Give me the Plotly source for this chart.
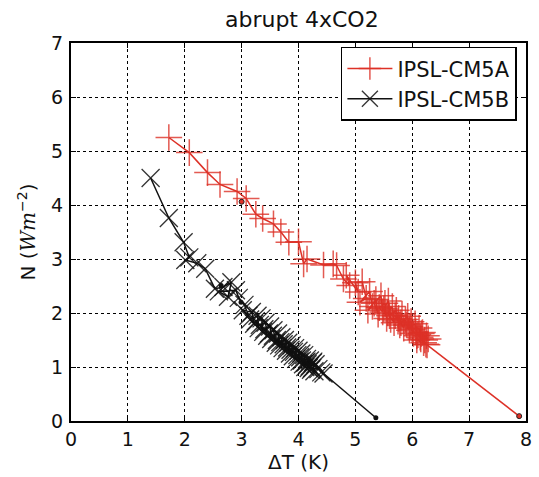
import plotly.graph_objects as go

# IPSL-CM5A annual means (dT, N)
cm5a_dt = [1.72, 2.08, 2.40, 2.62, 2.92, 3.08, 3.25, 3.37, 3.56, 3.69, 3.83, 4.00, 4.09, 4.15,
           4.44, 4.61, 4.67, 4.79, 4.90, 4.84, 5.05, 5.00, 5.12, 5.19, 5.08,
           5.25, 5.30, 5.22, 5.36, 5.40, 5.33, 5.45, 5.48, 5.42, 5.52, 5.55, 5.50, 5.58, 5.62,
           5.57, 5.65, 5.68, 5.60, 5.72, 5.75, 5.70, 5.78, 5.82, 5.76, 5.85, 5.88, 5.80, 5.92,
           5.95, 5.90, 5.98, 6.02, 5.96, 6.05, 6.08, 6.00, 6.12, 6.15, 6.06, 6.18, 6.22, 6.10,
           6.25, 6.20, 6.14, 6.28, 6.16, 6.24, 6.08, 6.26]
cm5a_n = [5.25, 4.97, 4.60, 4.38, 4.25, 4.12, 3.83, 3.75, 3.65, 3.50, 3.31, 3.32, 2.91, 3.00,
          2.89, 2.91, 2.88, 2.63, 2.51, 2.70, 2.39, 2.56, 2.58, 2.27, 2.20,
          2.40, 2.12, 2.05, 2.25, 1.98, 2.18, 2.32, 2.02, 2.10, 2.18, 1.90, 2.08, 2.22, 1.88,
          2.00, 2.12, 1.82, 1.95, 2.05, 1.85, 1.95, 1.78, 1.98, 1.90, 1.72, 1.88, 1.82, 1.94,
          1.68, 1.78, 1.84, 1.62, 1.75, 1.80, 1.58, 1.70, 1.72, 1.52, 1.65, 1.64, 1.50, 1.60,
          1.58, 1.45, 1.55, 1.52, 1.62, 1.42, 1.50, 1.41]

# IPSL-CM5B annual means (dT, N)
cm5b_dt = [1.40, 1.72, 1.98, 2.08, 2.01, 2.22, 2.36, 2.53, 2.68, 2.82, 2.76, 2.60, 2.90, 2.95,
           3.05, 3.12, 3.02,
           3.18, 3.22, 3.15, 3.28, 3.30, 3.25, 3.35, 3.38, 3.32, 3.42, 3.45, 3.40, 3.50, 3.52,
           3.48, 3.56, 3.60, 3.55, 3.64, 3.66, 3.62, 3.70, 3.72, 3.68, 3.76, 3.78, 3.74, 3.82,
           3.85, 3.80, 3.88, 3.90, 3.86, 3.94, 3.96, 3.92, 4.00, 4.02, 3.98, 4.05, 4.08, 4.03,
           4.10, 4.12, 4.06, 4.15, 4.18, 4.12, 4.20, 4.22, 4.16, 4.25, 4.28, 4.20, 4.30, 4.14,
           4.24, 4.35, 4.26, 4.40, 4.44]
cm5b_n = [4.50, 3.76, 3.31, 3.03, 2.98, 2.92, 2.82, 2.45, 2.48, 2.57, 2.30, 2.40, 2.42, 2.28,
          2.15, 1.95, 2.05,
          2.02, 1.80, 1.88, 1.95, 1.72, 1.85, 1.90, 1.65, 1.78, 1.82, 1.58, 1.70, 1.75, 1.52,
          1.62, 1.68, 1.45, 1.58, 1.62, 1.40, 1.50, 1.55, 1.35, 1.46, 1.50, 1.30, 1.42, 1.45,
          1.25, 1.36, 1.40, 1.20, 1.32, 1.35, 1.15, 1.28, 1.30, 1.10, 1.22, 1.25, 1.05, 1.18,
          1.22, 1.00, 1.12, 1.15, 0.98, 1.08, 1.12, 0.95, 1.05, 1.08, 0.92, 1.02, 1.05, 1.10,
          0.98, 0.96, 1.10, 0.90, 0.88]

# extrapolation to equilibrium (N = 0)
cm5a_eq_dt = [6.26, 7.88]
cm5a_eq_n = [1.41, 0.09]
cm5b_eq_dt = [4.44, 5.36]
cm5b_eq_n = [0.88, 0.06]

# marked points on the fits
cm5a_dot_dt = [3.00]
cm5a_dot_n = [4.06]
cm5b_dot_dt = [2.64, 2.99]
cm5b_dot_n = [2.51, 2.20]

red = '#dd3127'
black = '#111111'

fig = go.Figure()

fig.add_trace(go.Scatter(x=cm5a_eq_dt, y=cm5a_eq_n, mode='lines', showlegend=False,
                         line=dict(color=red, width=1.5)))
fig.add_trace(go.Scatter(x=cm5b_eq_dt, y=cm5b_eq_n, mode='lines', showlegend=False,
                         line=dict(color=black, width=1.5)))

fig.add_trace(go.Scatter(x=cm5a_dt, y=cm5a_n, mode='lines+markers', name='IPSL-CM5A',
                         line=dict(color=red, width=1.5),
                         marker=dict(symbol='cross-thin', size=19, opacity=0.8,
                                     line=dict(color=red, width=1.5))))
fig.add_trace(go.Scatter(x=cm5b_dt, y=cm5b_n, mode='lines+markers', name='IPSL-CM5B',
                         line=dict(color=black, width=1.5),
                         marker=dict(symbol='x-thin', size=18, opacity=0.85,
                                     line=dict(color=black, width=1.3))))

fig.add_trace(go.Scatter(x=cm5a_dot_dt + cm5a_eq_dt[1:], y=cm5a_dot_n + cm5a_eq_n[1:],
                         mode='markers', showlegend=False,
                         marker=dict(size=5, color=red, line=dict(color='#222222', width=1))))
fig.add_trace(go.Scatter(x=cm5b_dot_dt + cm5b_eq_dt[1:], y=cm5b_dot_n + cm5b_eq_n[1:],
                         mode='markers', showlegend=False,
                         marker=dict(size=5, color=black)))

axis_style = dict(showline=True, linecolor='black', linewidth=2, mirror='ticks',
                  ticks='inside', ticklen=5, tickcolor='black', tickwidth=1,
                  showgrid=True, gridcolor='black', griddash='dot', gridwidth=1,
                  zeroline=False, tickfont=dict(size=19, color='#111111'))

fig.update_layout(
    width=539, height=477,
    margin=dict(l=71, r=7, t=43, b=54),
    paper_bgcolor='white', plot_bgcolor='white',
    font=dict(family='DejaVu Sans', color='#111111'),
    title=dict(text='abrupt 4xCO2', x=0.56, xanchor='center', y=0.975, yanchor='top',
               font=dict(family='DejaVu Sans', size=22)),
    xaxis=dict(range=[0, 8], dtick=1,
               title=dict(text='ΔT (K)', font=dict(family='DejaVu Sans', size=20), standoff=6),
               **axis_style),
    yaxis=dict(range=[0, 7], dtick=1, ticklabelstandoff=2,
               title=dict(text='N (<span style="font-family:DejaVu Serif"><i>Wm</i></span>'
                               '<sup>−2</sup>)',
                          font=dict(family='DejaVu Sans', size=20), standoff=10),
               **axis_style),
    legend=dict(x=0.98, y=0.99, xanchor='right', yanchor='top',
                bordercolor='black', borderwidth=1.5, bgcolor='white',
                font=dict(family='DejaVu Sans', size=21), tracegroupgap=0,
                itemwidth=45),
)

fig.write_html("out.html", config={'displayModeBar': False},
               post_script="document.body.style.margin='0';"
                           "document.body.style.overflow='hidden';")
